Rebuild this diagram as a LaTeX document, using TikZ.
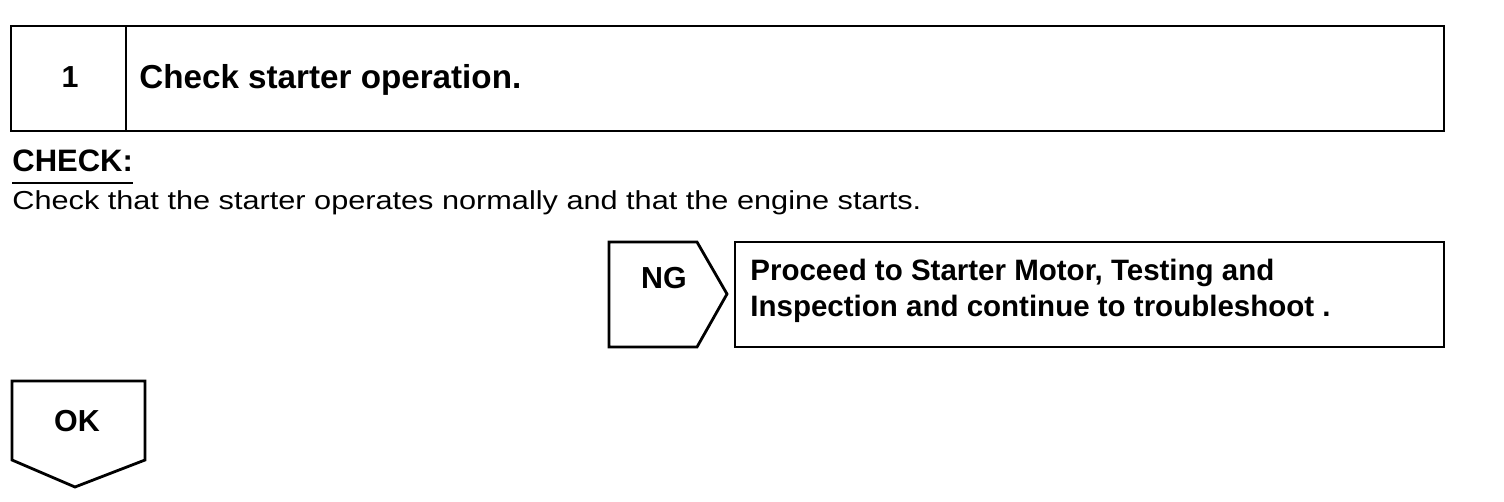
\documentclass[tikz,border=0pt]{standalone}
\usepackage{fontspec}
\setmainfont{Liberation Sans}
\newfontfamily\widefont[FakeStretch=1.18]{Liberation Sans}
\usepackage{tikz}
\usetikzlibrary{positioning,calc}

\tikzset{
  frame/.style={line width=1.4pt,line join=miter},
  boldtxt/.style={font=\fontsize{15.2}{18}\selectfont\bfseries,inner sep=0pt},
  plaintxt/.style={font=\widefont\fontsize{13}{16}\selectfont,inner sep=0pt}
}

\begin{document}
\begin{tikzpicture}[x=0.5pt,y=-0.5pt]
 \useasboundingbox (0,0) rectangle (1504,502);
 % step header
 \draw[frame] (11,26) rectangle (1444,131);
 \draw[frame] (126,26) -- (126,131);
 \node[boldtxt,anchor=base] (num) at (70,88) {1};
 \node[boldtxt,font=\fontsize{16.6}{18}\selectfont\bfseries,anchor=base west] (title) at (139,89) {Check starter operation.};
 % check text
 \node[boldtxt,font=\fontsize{15.5}{18}\selectfont\bfseries,anchor=base west] (chk) at (12,172) {CHECK:};
 \draw[line width=1pt] ($(chk.base west)+(0,11)$) -- ($(chk.base east)+(0,11)$);
 \node[plaintxt,anchor=base west] (desc) at (12,210) {Check that the starter operates normally and that the engine starts.};
 % NG branch
 \draw[frame] (609,242) -- (697,242) -- (727,294) -- (697,347) -- (609,347) -- cycle;
 \node[boldtxt,anchor=base] (ng) at (664,289) {NG};
 \draw[frame] (735,242) rectangle (1444,347);
 \node[boldtxt,font=\fontsize{14.75}{18}\selectfont\bfseries,anchor=base west] (proc) at (750,280) {Proceed to Starter Motor, Testing and};
 \node[boldtxt,font=\fontsize{14.75}{18}\selectfont\bfseries,anchor=base west] (proc2) at (750,316) {Inspection and continue to troubleshoot .};
 % OK branch
 \draw[frame] (12,381) -- (145,381) -- (145,460) -- (75,487) -- (12,460) -- cycle;
 \node[boldtxt,anchor=base] (ok) at (77,431) {OK};
\end{tikzpicture}
\end{document}
